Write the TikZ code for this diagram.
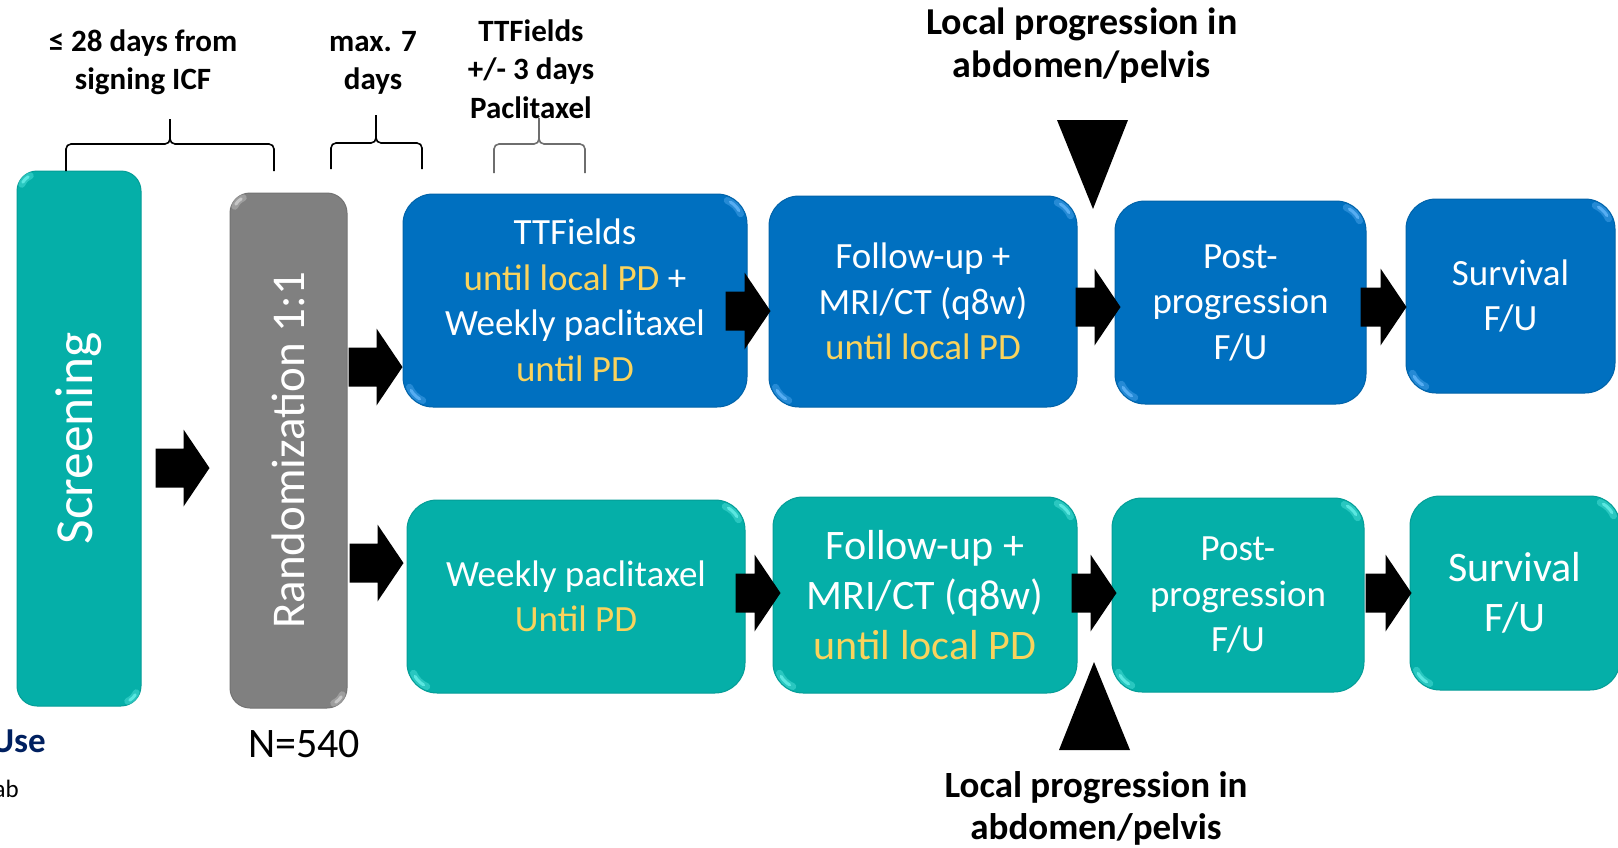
\documentclass[tikz,border=0pt]{standalone}
\usepackage{fontspec}
\usepackage{graphicx}
\setmainfont{Carlito}
\usetikzlibrary{calc}

\definecolor{tealbox}{HTML}{05AFA8}
\definecolor{bluebox}{HTML}{0070C0}
\definecolor{graybox}{HTML}{808080}
\definecolor{pdyellow}{HTML}{FAD35C}
\definecolor{navy}{HTML}{002060}
\definecolor{bracegray}{HTML}{6E6E6E}
\definecolor{tealglint}{HTML}{6FF5EE}
\definecolor{blueglint}{HTML}{6CBCFF}
\definecolor{grayglint}{HTML}{D8D8D8}

\newcommand\pd[1]{\textcolor{pdyellow}{#1}}

% horizontal block arrow: shaft starts at #1, tip at the x of #2
\newcommand\blockarrow[2]{%
  \fill[blockarrow] let \p1=#1, \p2=#2 in
    (\x1,\y1+19.5pt) -- (\x2-26pt,\y1+19.5pt) -- (\x2-26pt,\y1+38.5pt) --
    (\x2,\y1) -- (\x2-26pt,\y1-38.5pt) -- (\x2-26pt,\y1-19.5pt) --
    (\x1,\y1-19.5pt) -- cycle;}

% small bevel highlight on a rounded corner:
% #1 colour, #2 corner anchor, #3 shift to the arc centre, #4 mid angle, #5 radius
\newcommand\glint[5]{%
  \draw[glintsoft, #1] ($([shift={#3}]#2)+(#4-22:#5)$) arc[start angle=#4-22, end angle=#4+22, radius=#5];
  \draw[glintcore, #1] ($([shift={#3}]#2)+(#4-14:#5)$) arc[start angle=#4-14, end angle=#4+14, radius=#5];}

\tikzset{
  stage/.style={inner sep=0pt, align=center, text=white, rounded corners=30pt, line width=1pt},
  bluestage/.style={stage, fill=bluebox, draw=bluebox!88!black},
  tealstage/.style={stage, fill=tealbox, draw=tealbox!90!black},
  stdtext/.style={font=\fontsize{37}{45.5}\selectfont},
  bigtext/.style={font=\fontsize{42}{50}\selectfont},
  topnote/.style={inner sep=0pt, align=center, font=\bfseries\fontsize{31}{38.5}\selectfont},
  lpnote/.style={inner sep=0pt, align=center, font=\bfseries\fontsize{38}{43}\selectfont},
  bracepath/.style={line width=1.6pt, rounded corners=5pt},
  blockarrow/.style={fill=black},
  pointer/.style={fill=black},
  glintsoft/.style={line width=7pt, line cap=round, opacity=0.35},
  glintcore/.style={line width=3pt, line cap=round, opacity=0.7},
}

\begin{document}
\begin{tikzpicture}[x=1pt,y=-1pt]
\clip (0,0) rectangle (1618,847);
\fill[white] (0,0) rectangle (1618,847);

% ---- stage boxes ----
\node[tealstage, rounded corners=20pt, minimum width=124pt, minimum height=535pt,
      font=\fontsize{53.5}{60}\selectfont] (scr) at (79,438.5) {\rotatebox{90}{Screening}};
\node[stage, fill=graybox, draw=graybox!90!black, rounded corners=20pt, minimum width=117pt, minimum height=515pt,
      font=\fontsize{47}{54}\selectfont] (ran) at (288.5,450.5) {\rotatebox{90}{Randomization 1:1}};

\node[bluestage, stdtext, minimum width=344pt, minimum height=213pt] (ttf) at (575,300.5)
  {TTFields\\\pd{until local PD} +\\Weekly paclitaxel\\\pd{until PD}};
\node[bluestage, stdtext, minimum width=308pt, minimum height=211pt] (fu1) at (923,301.5)
  {Follow-up +\\MRI/CT (q8w)\\\pd{until local PD}};
\node[bluestage, stdtext, minimum width=251pt, minimum height=203pt] (pp1) at (1240.5,302.5)
  {Post-\\progression\\F/U};
\node[bluestage, stdtext, minimum width=209pt, minimum height=194pt] (sv1) at (1510.5,296)
  {Survival\\F/U};

\node[tealstage, stdtext, minimum width=338pt, minimum height=193pt] (wk) at (576,596.5)
  {Weekly paclitaxel\\\pd{Until PD}};
\node[tealstage, bigtext, minimum width=304pt, minimum height=196pt] (fu2) at (925,595)
  {Follow-up +\\MRI/CT (q8w)\\\pd{until local PD}};
\node[tealstage, stdtext, minimum width=252pt, minimum height=194pt] (pp2) at (1238,595)
  {Post-\\progression\\F/U};
\node[tealstage, bigtext, minimum width=210pt, minimum height=194pt] (sv2) at (1515,593)
  {Survival\\F/U};

% ---- bevel highlights ----
\glint{tealglint}{scr.north west}{(20,20)}{-135}{16}
\glint{tealglint}{scr.south east}{(-20,-20)}{45}{16}
\glint{grayglint}{ran.north west}{(20,20)}{-135}{16}
\glint{grayglint}{ran.south east}{(-20,-20)}{45}{16}
\foreach \b in {ttf,fu1,pp1,sv1}{
  \glint{blueglint}{\b.north east}{(-30,30)}{-45}{25}
  \glint{blueglint}{\b.south west}{(30,-30)}{135}{25}
}
\foreach \b in {wk,fu2,pp2,sv2}{
  \glint{tealglint}{\b.north east}{(-30,30)}{-45}{25}
  \glint{tealglint}{\b.south west}{(30,-30)}{135}{25}
}

% ---- block arrows between stages ----
\blockarrow{([shift={(14,29.5)}]scr.east)}{([xshift=-20]ran.west)}
\blockarrow{([shift={(1,-83.5)}]ran.east)}{(ttf.west)}
\blockarrow{([shift={(2,112.5)}]ran.east)}{([xshift=-3]wk.west)}
\blockarrow{([shift={(-22,10.5)}]ttf.east)}{([xshift=2]fu1.west)}
\blockarrow{([shift={(-2,5.5)}]fu1.east)}{([xshift=6]pp1.west)}
\blockarrow{([shift={(-6,4.5)}]pp1.east)}{([xshift=1]sv1.west)}
\blockarrow{([shift={(-10,-3.5)}]wk.east)}{([xshift=8]fu2.west)}
\blockarrow{([shift={(-6,-2)}]fu2.east)}{([xshift=5]pp2.west)}
\blockarrow{([shift={(1,-2)}]pp2.east)}{([xshift=2]sv2.west)}

% ---- local progression markers ----
\fill[pointer] (1057,120) -- (1128,120) -- (1093,209) -- cycle;
\fill[pointer] (1059,750) -- (1130,750) -- (1094,662) -- cycle;
\node[lpnote] (lptop) at (1082,46) {Local progression in\\abdomen/pelvis};
\node[lpnote, font=\bfseries\fontsize{37}{42}\selectfont] (lpbot) at (1096,808) {Local progression in\\abdomen/pelvis};

% ---- timing notes and braces ----
\node[topnote] (n28) at (143,62) {≤ 28 days from\\signing ICF};
\node[topnote] (n7) at (373,63) {max. 7\\days};
\node[topnote] (n3) at (531,69) {TTFields\\+/- 3 days\\Paclitaxel};

\draw[bracepath] (66,171) |- (170,144) -- (170,119);
\draw[bracepath] (274,171) |- (170,144) -- (170,119);
\draw[bracepath] (331,169) |- (376,143) -- (376,115);
\draw[bracepath] (422,169) |- (376,143) -- (376,115);
\draw[bracepath, bracegray] (494,173) |- (539,144) -- (539,118);
\draw[bracepath, bracegray] (585,173) |- (539,144) -- (539,118);

% ---- bottom texts ----
\node[inner sep=0pt, anchor=base, font=\fontsize{42}{50}\selectfont] (nval) at (304,757) {N=540};
\node[inner sep=0pt, anchor=base east, text=navy, font=\bfseries\fontsize{35}{40}\selectfont] (use) at (46,752) {Use};
\node[inner sep=0pt, anchor=base east, font=\fontsize{25}{28}\selectfont] (ab) at (19,797) {ab};
\end{tikzpicture}
\end{document}
